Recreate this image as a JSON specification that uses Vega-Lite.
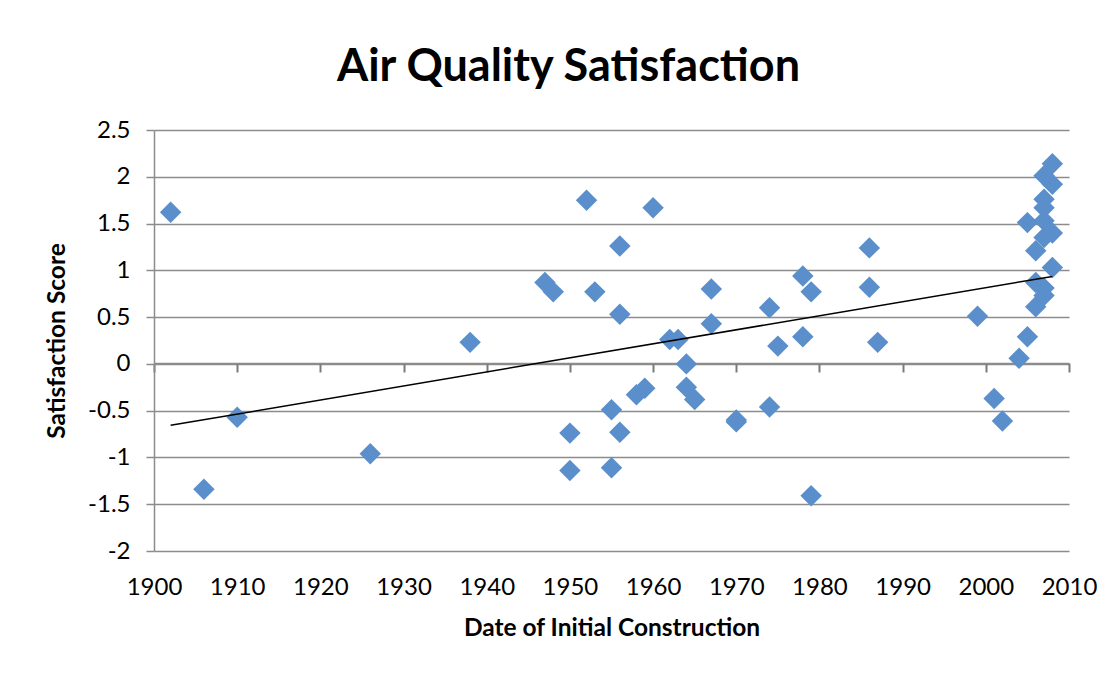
{
  "$schema": "https://vega.github.io/schema/vega-lite/v6.json",
  "width": 915,
  "height": 421,
  "autosize": {"type": "none"},
  "padding": {"left": 154, "top": 130, "right": 49, "bottom": 126},
  "background": "white",
  "title": {
    "text": "Air Quality Satisfaction",
    "font": "Lato",
    "fontSize": 45,
    "fontWeight": "bold",
    "color": "#000000",
    "anchor": "middle",
    "dx": -43,
    "offset": 28
  },
  "data": {
    "values": [
      {"year": 1902, "score": 1.62},
      {"year": 1906, "score": -1.34},
      {"year": 1910, "score": -0.57},
      {"year": 1926, "score": -0.96},
      {"year": 1938, "score": 0.23},
      {"year": 1947, "score": 0.87},
      {"year": 1948, "score": 0.77},
      {"year": 1950, "score": -0.74},
      {"year": 1950, "score": -1.14},
      {"year": 1952, "score": 1.75},
      {"year": 1953, "score": 0.77},
      {"year": 1955, "score": -0.49},
      {"year": 1955, "score": -1.11},
      {"year": 1956, "score": 1.26},
      {"year": 1956, "score": 0.53},
      {"year": 1956, "score": -0.73},
      {"year": 1958, "score": -0.33},
      {"year": 1959, "score": -0.26},
      {"year": 1960, "score": 1.67},
      {"year": 1962, "score": 0.26},
      {"year": 1963, "score": 0.26},
      {"year": 1964, "score": 0.0},
      {"year": 1964, "score": -0.25},
      {"year": 1965, "score": -0.38},
      {"year": 1967, "score": 0.8},
      {"year": 1967, "score": 0.43},
      {"year": 1970, "score": -0.6},
      {"year": 1970, "score": -0.62},
      {"year": 1974, "score": 0.6},
      {"year": 1974, "score": -0.46},
      {"year": 1975, "score": 0.19},
      {"year": 1978, "score": 0.94},
      {"year": 1978, "score": 0.29},
      {"year": 1979, "score": 0.77},
      {"year": 1979, "score": -1.41},
      {"year": 1986, "score": 1.24},
      {"year": 1986, "score": 0.82},
      {"year": 1987, "score": 0.23},
      {"year": 1999, "score": 0.51},
      {"year": 2001, "score": -0.37},
      {"year": 2002, "score": -0.61},
      {"year": 2004, "score": 0.06},
      {"year": 2005, "score": 0.29},
      {"year": 2005, "score": 1.51},
      {"year": 2006, "score": 1.21},
      {"year": 2006, "score": 0.87},
      {"year": 2006, "score": 0.61},
      {"year": 2007, "score": 2.01},
      {"year": 2007, "score": 1.76},
      {"year": 2007, "score": 1.67},
      {"year": 2007, "score": 1.53},
      {"year": 2007, "score": 1.35},
      {"year": 2007, "score": 0.81},
      {"year": 2007, "score": 0.73},
      {"year": 2008, "score": 2.14},
      {"year": 2008, "score": 1.92},
      {"year": 2008, "score": 1.4},
      {"year": 2008, "score": 1.03}
    ]
  },
  "layer": [
    {
      "mark": {"type": "point", "shape": "diamond", "filled": true, "size": 460, "color": "#5B8FCB", "opacity": 1},
      "encoding": {
        "x": {
          "field": "year",
          "type": "quantitative",
          "scale": {"domain": [1900, 2010], "nice": false, "zero": false},
          "axis": {
            "orient": "bottom",
            "offset": -188,
            "title": "Date of Initial Construction",
            "titleFont": "Lato",
            "titleFontSize": 24.5,
            "titleFontWeight": "bold",
            "titleColor": "#000000",
            "titlePadding": 53,
            "labelFont": "Lato",
            "labelFontSize": 24,
            "labelColor": "#000000",
            "labelPadding": 203,
            "labelFlush": false,
            "labelOverlap": false,
            "values": [1900, 1910, 1920, 1930, 1940, 1950, 1960, 1970, 1980, 1990, 2000, 2010],
            "format": "d",
            "domainColor": "#8c8c8c",
            "domainWidth": 1.5,
            "ticks": true,
            "tickColor": "#7a7a7a",
            "tickWidth": 2,
            "tickSize": 9,
            "tickOpacity": 1,
            "grid": false
          }
        },
        "y": {
          "field": "score",
          "type": "quantitative",
          "scale": {"domain": [-2, 2.5], "nice": false, "zero": false},
          "axis": {
            "title": "Satisfaction Score",
            "titleFont": "Lato",
            "titleFontSize": 24.5,
            "titleFontWeight": "bold",
            "titleColor": "#000000",
            "titlePadding": 18,
            "labelFont": "Lato",
            "labelFontSize": 24,
            "labelColor": "#000000",
            "labelPadding": 16,
            "labelFlush": false,
            "labelOverlap": false,
            "labelExpr": "'' + datum.value",
            "values": [-2, -1.5, -1, -0.5, 0, 0.5, 1, 1.5, 2, 2.5],
            "domainColor": "#8c8c8c",
            "domainWidth": 1.5,
            "tickColor": "#8c8c8c",
            "tickWidth": 1.5,
            "tickSize": 8,
            "grid": true,
            "gridColor": "#8c8c8c",
            "gridWidth": 1.5
          }
        }
      }
    },
    {
      "transform": [
        {"regression": "score", "on": "year", "extent": [1902, 2008]}
      ],
      "mark": {"type": "line", "color": "#000000", "strokeWidth": 1.5},
      "encoding": {
        "x": {"field": "year", "type": "quantitative"},
        "y": {"field": "score", "type": "quantitative"}
      }
    }
  ],
  "config": {
    "view": {"stroke": null}
  }
}
